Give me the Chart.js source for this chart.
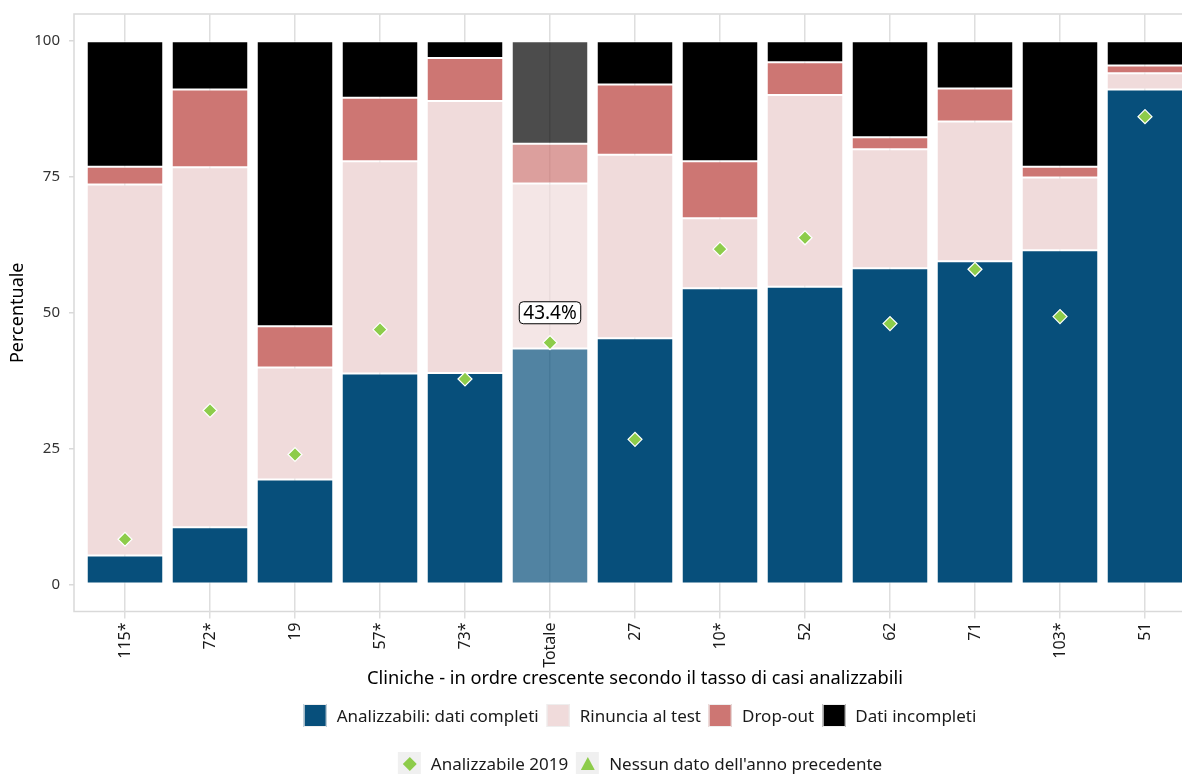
<!DOCTYPE html>
<html>
<head>
<meta charset="utf-8">
<script src="https://cdn.jsdelivr.net/npm/chart.js@4.4.1/dist/chart.umd.min.js"></script>
<style>
	html, body { margin: 0; padding: 0; background: #fff; overflow: hidden; width: 1182px; height: 774px; }
	#wrap { position: relative; width: 1196px; height: 774px; }
	#chart { position: absolute; left: 0; top: 0; }
	.legend { position: absolute; left: 640px; transform: translateX(-50%); display: flex; align-items: center;
		font-family: 'Noto Sans', sans-serif; font-size: 17px; color: #1a1a1a; white-space: nowrap; }
	.item { display: flex; align-items: center; margin: 0 4px; }
	.key { width: 23px; height: 23px; box-sizing: border-box; margin-right: 10px; border: 1px solid #eee; }
	.key.pt { background: #f0f0f0; border: none; display: flex; align-items: center; justify-content: center; }
</style>
</head>
<body>
<div id="wrap">
	<canvas id="chart" width="1196" height="774"></canvas>
	<div class="legend" id="legendBars" style="top: 704px;"></div>
	<div class="legend" id="legendPoints" style="top: 752px;"></div>
</div>
<script>
// clinics, sorted by share of analysable cases
const clinics = ['115*', '72*', '19', '57*', '73*', 'Totale', '27', '10*', '52', '62', '71', '103*', '51'];

// percentages per clinic (stacked, sum 100)
const analizzabili = [5.3, 10.5, 19.3, 38.8, 38.9, 43.4, 45.3, 54.5, 54.8, 58.2, 59.5, 61.5, 91.1];
const rinuncia = [68.3, 66.3, 20.6, 39.1, 50.1, 30.4, 33.8, 12.9, 35.3, 21.9, 25.7, 13.4, 3.0];
const dropout = [3.3, 14.3, 7.6, 11.7, 7.9, 7.3, 12.9, 10.5, 6.0, 2.2, 6.1, 2.0, 1.4];
const incompleti = [23.1, 8.9, 52.5, 10.4, 3.1, 18.9, 8.0, 22.1, 3.9, 17.7, 8.7, 23.1, 4.5];

// previous year analysable share
const analizzabile2019 = [8.3, 32.0, 23.9, 46.9, 37.8, 44.5, 26.7, 61.7, 63.8, 48.0, 58.0, 49.3, 86.1];

const yTicks = [0, 25, 50, 75, 100];

const totalIndex = clinics.indexOf('Totale');
const totalLabelY = 50;
const FONT = "'Noto Sans', sans-serif";
const GREEN = '#8dcc4a';

// base colour for every bar, lighter (transparent) for the total bar
let barColors = (rgb) => clinics.map((c, i) => `rgba(${rgb}, ${i === totalIndex ? 0.7 : 1})`);

const seriesDefs = [
	{ label: 'Analizzabili: dati completi', data: analizzabili, rgb: '7, 79, 123' },
	{ label: 'Rinuncia al test', data: rinuncia, rgb: '240, 219, 219' },
	{ label: 'Drop-out', data: dropout, rgb: '205, 118, 115' },
	{ label: 'Dati incompleti', data: incompleti, rgb: '0, 0, 0' },
];

// no automatic label padding, the layout is fixed
let noPadding = (s) => {
	s.paddingTop = 0;
	s.paddingBottom = 0;
	s.paddingLeft = 0;
	s.paddingRight = 0;
};

// panel frame (ggplot style border)
let panelFrame = {
	id: 'panelFrame',
	beforeDraw (chart) {
		let { ctx, chartArea } = chart;
		ctx.save();
		ctx.strokeStyle = '#d9d9d9';
		ctx.lineWidth = 1.5;
		ctx.strokeRect(chartArea.left, chartArea.top, chartArea.right - chartArea.left, chartArea.bottom - chartArea.top);
		ctx.restore();
	},
};

// boxed label above the total bar
let totalLabel = {
	id: 'totalLabel',
	afterDatasetsDraw (chart) {
		let { ctx, scales: { x, y } } = chart;
		let px = x.getPixelForValue(totalIndex);
		let py = y.getPixelForValue(totalLabelY);
		let text = analizzabili[totalIndex].toFixed(1) + '%';
		ctx.save();
		ctx.font = `19px ${FONT}`;
		let w = ctx.measureText(text).width + 8;
		let h = 22;
		ctx.beginPath();
		ctx.roundRect(px - w / 2, py - h / 2, w, h, 4);
		ctx.fillStyle = '#fff';
		ctx.fill();
		ctx.strokeStyle = '#000';
		ctx.lineWidth = 1;
		ctx.stroke();
		ctx.fillStyle = '#000';
		ctx.textAlign = 'center';
		ctx.textBaseline = 'middle';
		ctx.fillText(text, px, py + 1);
		ctx.restore();
	},
};

Chart.defaults.font.family = FONT;
Chart.defaults.color = '#1a1a1a';

let datasets = seriesDefs.map(s => ({
	type: 'bar',
	label: s.label,
	data: s.data,
	backgroundColor: barColors(s.rgb),
	borderColor: '#fff',
	borderWidth: 1,
	borderSkipped: false,
	stack: 'bars',
	order: 1,
	categoryPercentage: 1,
	barPercentage: 0.9,
}));

datasets.push({
	type: 'line',
	label: 'Analizzabile 2019',
	data: analizzabile2019,
	stack: 'points',
	order: 0,
	showLine: false,
	pointStyle: 'rectRot',
	pointRadius: 7,
	pointBackgroundColor: GREEN,
	pointBorderColor: '#fff',
	pointBorderWidth: 1.2,
});

new Chart(document.getElementById('chart'), {
	data: {
		labels: clinics.map((c, i) => i),
		datasets,
	},
	options: {
		responsive: false,
		animation: false,
		layout: { autoPadding: false, padding: { top: 14, bottom: 84, left: 0, right: 0 } },
		plugins: {
			legend: { display: false },
			tooltip: { enabled: false },
		},
		scales: {
			x: {
				type: 'linear',
				stacked: true,
				min: -0.6,
				max: clinics.length - 0.4,
				offset: false,
				afterBuildTicks: (s) => { s.ticks = clinics.map((c, i) => ({ value: i })); },
				afterFit: (s) => { s.height = 78.5; noPadding(s); },
				ticks: {
					autoSkip: false,
					minRotation: 90,
					maxRotation: 90,
					padding: 4,
					font: { size: 16 },
					color: '#1a1a1a',
					callback: (v) => clinics[v],
				},
				grid: { offset: false, color: '#dedede', lineWidth: 1.5, tickLength: 7 },
				border: { display: false },
				title: {
					display: true,
					text: 'Cliniche - in ordre crescente secondo il tasso di casi analizzabili',
					font: { size: 18.3 },
					color: '#000',
					padding: 0,
				},
			},
			y: {
				stacked: true,
				min: -5,
				max: 105,
				afterBuildTicks: (s) => { s.ticks = yTicks.map(v => ({ value: v })); },
				afterFit: (s) => { s.width = 74; noPadding(s); },
				ticks: { padding: 9, font: { size: 15 }, color: '#333' },
				grid: { drawOnChartArea: false, color: '#d9d9d9', lineWidth: 1.5, tickLength: 5 },
				border: { display: false },
				title: {
					display: true,
					text: 'Percentuale',
					font: { size: 18 },
					color: '#000',
					padding: { top: 7, bottom: 0 },
				},
			},
		},
	},
	plugins: [ panelFrame, totalLabel ],
});

// html legends
let legendBars = document.getElementById('legendBars');
seriesDefs.forEach(s => {
	legendBars.insertAdjacentHTML('beforeend',
		`<div class="item"><div class="key" style="background: rgb(${s.rgb})"></div><span>${s.label}</span></div>`);
});

let legendPoints = document.getElementById('legendPoints');
legendPoints.innerHTML =
	`<div class="item"><div class="key pt"><svg width="14" height="14"><polygon points="7,0 14,7 7,14 0,7" fill="${GREEN}"/></svg></div><span>Analizzabile 2019</span></div>` +
	`<div class="item"><div class="key pt"><svg width="14" height="13"><polygon points="7,0 14,13 0,13" fill="${GREEN}"/></svg></div><span>Nessun dato dell'anno precedente</span></div>`;
</script>
</body>
</html>
